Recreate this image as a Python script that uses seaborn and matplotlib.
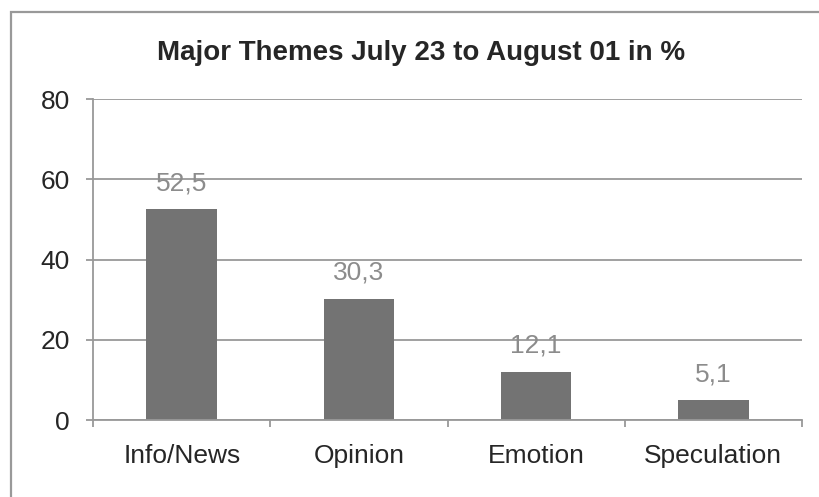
import seaborn as sns
import matplotlib.pyplot as plt
import pandas as pd
from matplotlib.patches import Rectangle

categories = ['Info/News', 'Opinion', 'Emotion', 'Speculation']
values = [52.5, 30.3, 12.1, 5.1]
yticks = [0, 20, 40, 60, 80]

df = pd.DataFrame({'theme': categories, 'pct': values})

sns.set_style('white')
plt.rcParams['font.family'] = ['Liberation Sans', 'DejaVu Sans']

fig = plt.figure(figsize=(8.19, 4.97), dpi=100)
ax = fig.add_axes([0.1139, 0.1543, 0.865, 0.6465])

sns.barplot(data=df, x='theme', y='pct', color='#737373', width=0.4,
            saturation=1, linewidth=0, ax=ax)

ax.set_ylim(0, 80)
ax.set_xlim(-0.5, 3.5)
ax.set_yticks(yticks)
ax.yaxis.grid(True, color='#999999', linewidth=1.3)
ax.set_axisbelow(True)
ax.set_xlabel('')
ax.set_ylabel('')

for side in ['top', 'right']:
    ax.spines[side].set_visible(False)
for side in ['left', 'bottom']:
    ax.spines[side].set_color('#999999')
    ax.spines[side].set_linewidth(1.3)

# ticks at category boundaries on x, labels centred under bars
ax.set_xticks([-0.5, 0.5, 1.5, 2.5, 3.5], minor=False)
ax.set_xticklabels([])
ax.set_xticks(range(len(categories)), minor=True)
ax.set_xticklabels(categories, minor=True)
ax.tick_params(axis='x', which='major', length=5, color='#999999', width=1.3, direction='out')
ax.tick_params(axis='x', which='minor', length=0, labelsize=19, pad=17)
ax.tick_params(axis='y', length=5, color='#999999', width=1.3, labelsize=19, pad=12,
               direction='out')
ax.tick_params(bottom=True, left=True)

for i, v in enumerate(values):
    ax.annotate(f'{v:.1f}'.replace('.', ','), (i, v), xytext=(0, 13.5),
                textcoords='offset points', ha='center', va='baseline',
                fontsize=19, color='#8c8c8c')

fig.text(0.5147, 0.893, 'Major Themes July 23 to August 01 in %', ha='center',
         va='center', fontsize=20, fontweight='bold')

fig.patches.append(Rectangle((11 / 819, -0.1), 1.0, 1.1 - 11.7 / 497,
                             transform=fig.transFigure, fill=False,
                             edgecolor='#999999', linewidth=1.6))

fig.savefig('out.png', dpi=100)
